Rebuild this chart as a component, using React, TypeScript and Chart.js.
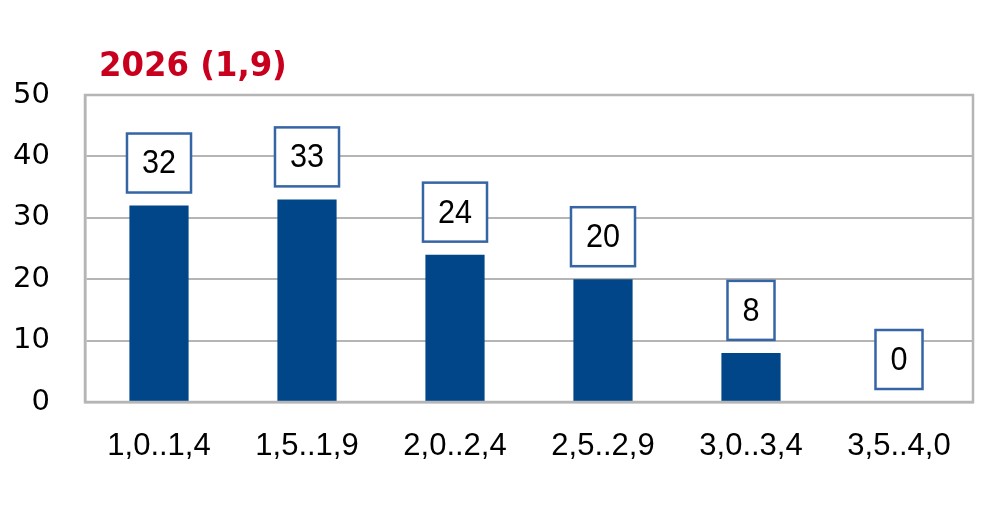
import React, { useEffect, useRef } from "react";
import { Chart, registerables } from "chart.js";

Chart.register(...registerables);

const title = "2026 (1,9)";
const categories = ["1,0..1,4", "1,5..1,9", "2,0..2,4", "2,5..2,9", "3,0..3,4", "3,5..4,0"];
const values = [32, 33, 24, 20, 8, 0];
const yTicks = [0, 10, 20, 30, 40, 50];

const BAR_COLOR = "#02468A";
const BOX_COLOR = "#3565A5";
const GRID_COLOR = "#B5B5B5";
const TITLE_COLOR = "#C8001E";

const boxLabels = {
  id: "boxLabels",
  afterDatasetsDraw(chart: any) {
    const ctx = chart.ctx;
    const meta = chart.getDatasetMeta(0);
    ctx.save();
    ctx.font = "34px 'Liberation Sans', sans-serif";
    ctx.textAlign = "center";
    ctx.textBaseline = "middle";
    const sx = 0.9;
    meta.data.forEach((el: any, i: number) => {
      const txt = String(values[i]);
      const w = ctx.measureText(txt).width * sx + 30;
      const h = 59;
      const bottom = el.y - 13;
      const top = bottom - h;
      const left = el.x - w / 2;
      ctx.fillStyle = "#ffffff";
      ctx.fillRect(left, top, w, h);
      ctx.strokeStyle = BOX_COLOR;
      ctx.lineWidth = 2.5;
      ctx.strokeRect(left, top, w, h);
      ctx.save();
      ctx.translate(el.x, top + h / 2 + 1);
      ctx.scale(sx, 1);
      ctx.fillStyle = "#000000";
      ctx.fillText(txt, 0, 0);
      ctx.restore();
    });
    ctx.restore();
  },
};

const frameAndTitle = {
  id: "frameAndTitle",
  afterDraw(chart: any) {
    const ctx = chart.ctx;
    const a = chart.chartArea;
    ctx.save();
    ctx.strokeStyle = GRID_COLOR;
    ctx.lineWidth = 2.5;
    ctx.strokeRect(a.left, a.top, a.right - a.left, a.bottom - a.top);
    ctx.fillStyle = TITLE_COLOR;
    ctx.font = "bold 34px 'DejaVu Sans', sans-serif";
    ctx.textAlign = "left";
    ctx.textBaseline = "alphabetic";
    ctx.translate(99, 76);
    ctx.scale(0.95, 1);
    ctx.fillText(title, 0, 0);
    ctx.restore();
  },
};

export default function App() {
  const ref = useRef<HTMLCanvasElement | null>(null);
  useEffect(() => {
    if (!ref.current) return;
    const chart = new Chart(ref.current, {
      type: "bar",
      data: {
        labels: categories,
        datasets: [
          {
            data: values,
            backgroundColor: BAR_COLOR,
            borderWidth: 0,
            categoryPercentage: 1,
            barPercentage: 0.4,
          },
        ],
      },
      options: {
        animation: false,
        responsive: false,
        devicePixelRatio: 1,
        layout: { padding: { top: 95, right: 22, bottom: 0, left: 0 } },
        plugins: {
          legend: { display: false },
          title: { display: false },
          tooltip: { enabled: false },
        },
        scales: {
          x: {
            grid: { display: false, drawTicks: false },
            border: { display: true, color: GRID_COLOR, width: 2.5 },
            ticks: {
              color: "#000",
              padding: 26,
              maxRotation: 0,
              autoSkip: false,
              font: { family: "'Liberation Sans', sans-serif", size: 31 },
            },
            afterFit(scale: any) {
              scale.height = 113;
            },
          },
          y: {
            min: yTicks[0],
            max: yTicks[yTicks.length - 1],
            afterBuildTicks(scale: any) {
              scale.ticks = yTicks.map((v) => ({ value: v }));
            },
            grid: { color: GRID_COLOR, lineWidth: 2, drawTicks: false },
            border: { display: true, color: GRID_COLOR, width: 2.5 },
            ticks: {
              color: "#000",
              padding: 35,
              font: { family: "'DejaVu Sans', sans-serif", size: 29 },
            },
            afterFit(scale: any) {
              scale.width = 85;
            },
          },
        },
      },
      plugins: [boxLabels, frameAndTitle],
    });
    return () => chart.destroy();
  }, []);
  return (
    <div style={{ position: "absolute", left: 0, top: 0, width: 995, height: 515, background: "#fff" }}>
      <canvas ref={ref} width={995} height={515} />
    </div>
  );
}
